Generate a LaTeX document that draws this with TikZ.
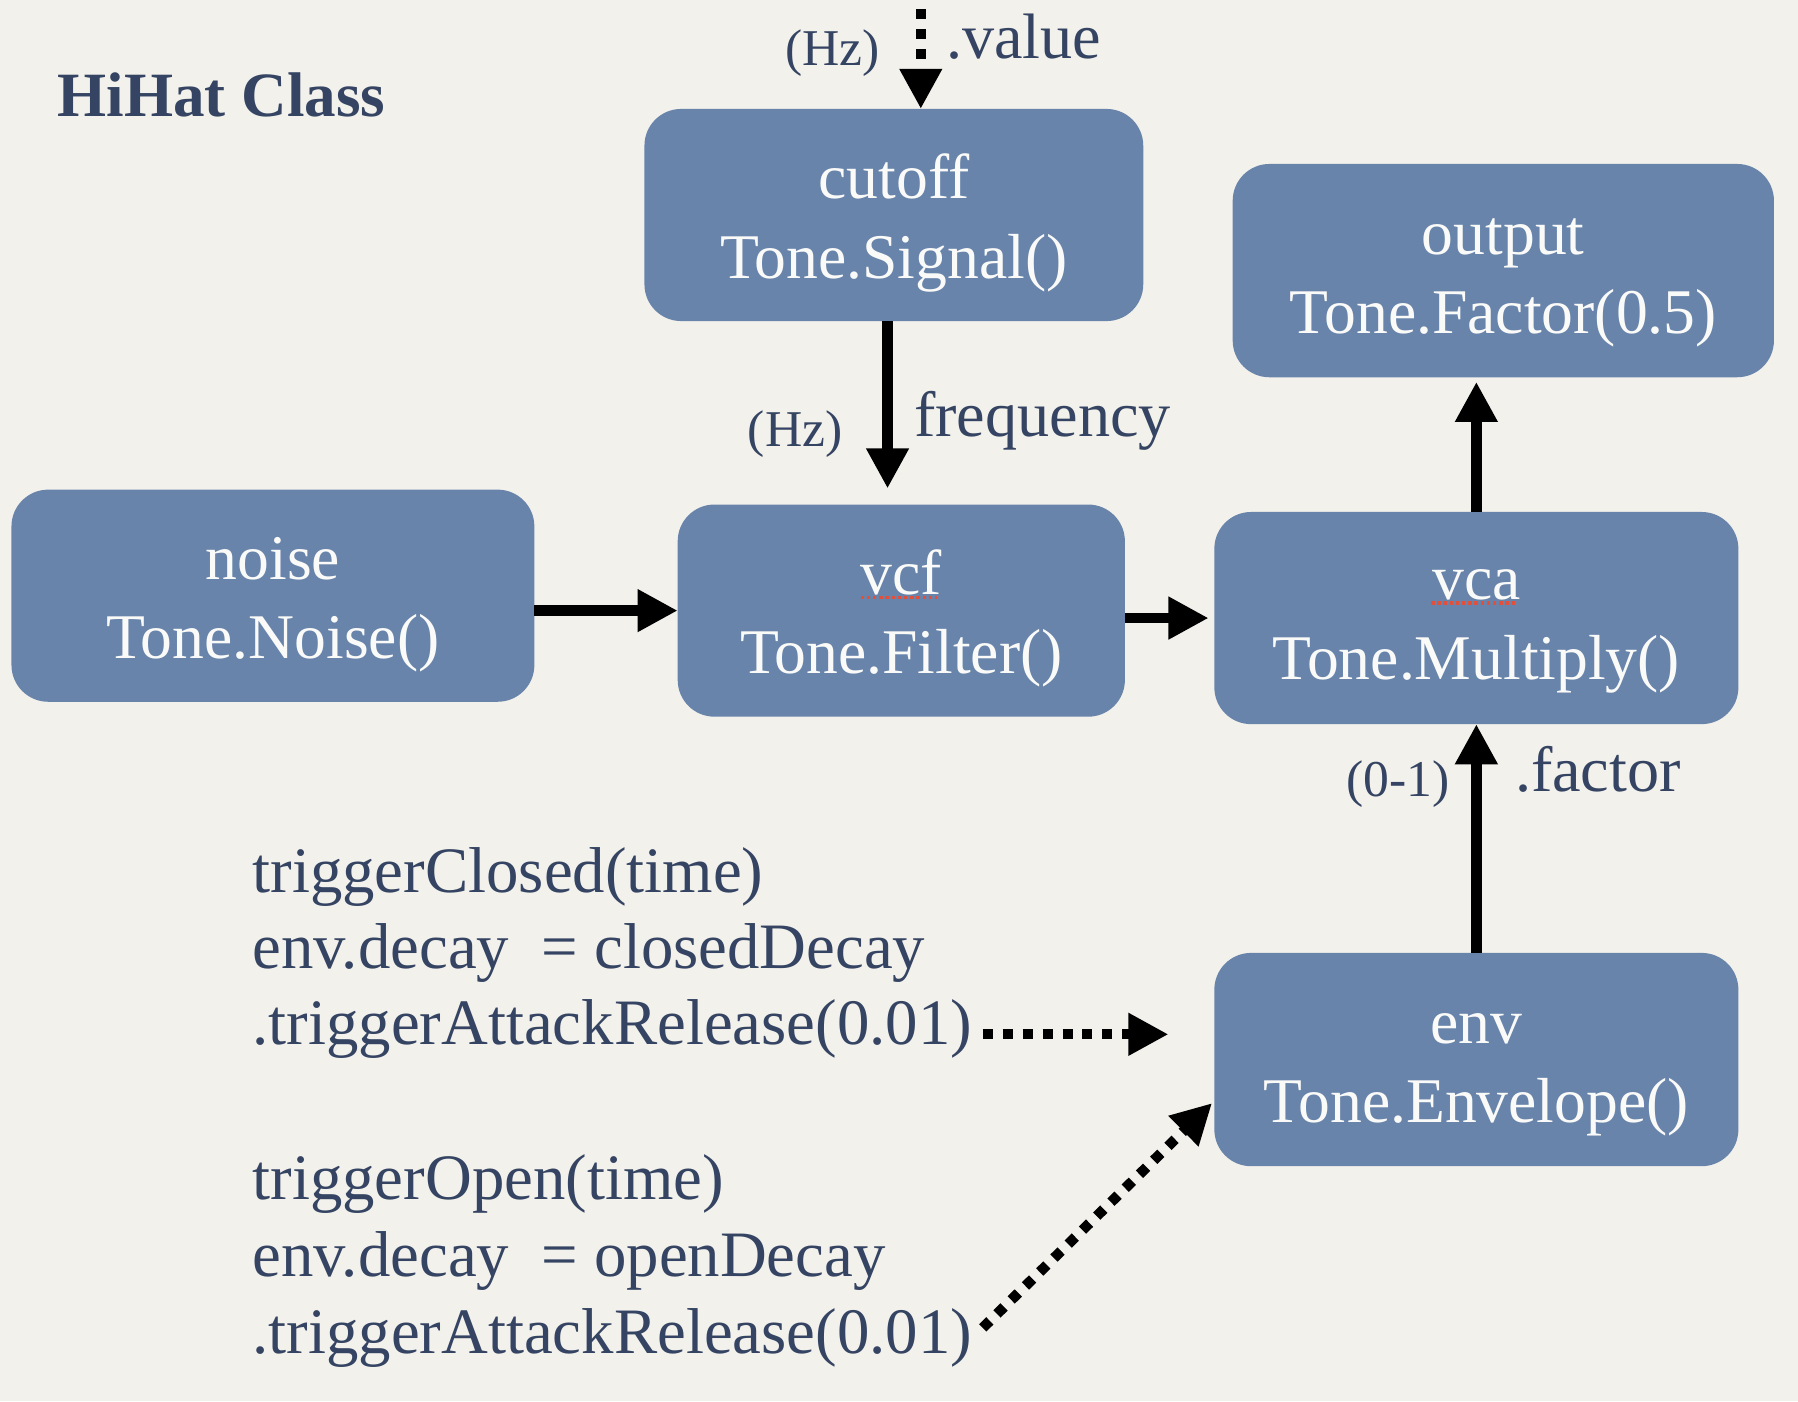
\documentclass[tikz,border=0pt]{standalone}
\usepackage{fontspec}
\setmainfont{Liberation Serif}
\usetikzlibrary{arrows.meta,calc}
\definecolor{paper}{RGB}{243,241,236}
\definecolor{boxblue}{RGB}{104,132,171}
\definecolor{ink}{RGB}{52,68,98}
\definecolor{boxtext}{RGB}{250,250,248}
\definecolor{spellred}{RGB}{226,80,60}
\newcommand{\myboxfont}{\fontsize{55.5}{62}\selectfont}
\newcommand{\mylabfont}{\fontsize{56}{62}\selectfont}
\newcommand{\myunitfont}{\fontsize{45}{52}\selectfont}
\newcommand{\mycodefont}{\fontsize{56.5}{62}\selectfont}
\newcommand{\mytitlefont}{\fontsize{55}{62}\selectfont\bfseries}
\begin{document}
\begin{tikzpicture}[x=1pt,y=-1pt,
  blockbox/.style={fill=boxblue, draw=none, rounded corners=32pt, inner sep=0pt, outer sep=0pt},
  boxlabel/.style={anchor=base, text=boxtext, inner sep=0pt, font=\myboxfont},
  edgelabel/.style={anchor=base west, text=ink, inner sep=0pt, font=\mylabfont},
  unitlabel/.style={anchor=base, text=ink, inner sep=0pt, font=\myunitfont},
  codeline/.style={anchor=base west, text=ink, inner sep=0pt, font=\mycodefont},
  flow/.style={line width=9pt, -{Triangle[length=35pt,width=35pt]}},
  dotflow/.style={flow, dash pattern=on 8.7pt off 8.7pt},
  spell/.style={spellred, line width=3pt, dash pattern=on 3pt off 2.4pt}
]
% background / bounding box
\fill[paper] (0,0) rectangle (1568,1222);
\useasboundingbox (0,0) rectangle (1568,1222);

% title
\node[anchor=base west, text=ink, inner sep=0pt, font=\mytitlefont] (title) at (50,102) {HiHat Class};

% boxes
\node[blockbox, minimum width=435pt, minimum height=185pt] (cutoff) at (779.5,187.5) {};
\node[blockbox, minimum width=472pt, minimum height=186pt] (output) at (1311,236) {};
\node[blockbox, minimum width=456pt, minimum height=185pt] (noise) at (238,519.5) {};
\node[blockbox, minimum width=390pt, minimum height=185pt] (vcf) at (786,532.5) {};
\node[blockbox, minimum width=457pt, minimum height=185pt] (vca) at (1287.5,539) {};
\node[blockbox, minimum width=457pt, minimum height=186pt] (env) at (1287.5,924) {};

% box texts
\node[boxlabel] (cutoffA) at ($(cutoff.center)+(0,-14)$) {cutoff};
\node[boxlabel] (cutoffB) at ($(cutoff.center)+(0,55)$) {Tone.Signal()};
\node[boxlabel] (outputA) at ($(output.center)+(0,-14)$) {output};
\node[boxlabel] (outputB) at ($(output.center)+(0,55)$) {Tone.Factor(0.5)};
\node[boxlabel] (noiseA) at ($(noise.center)+(0,-14)$) {noise};
\node[boxlabel] (noiseB) at ($(noise.center)+(0,55)$) {Tone.Noise()};
\node[boxlabel] (vcfA) at ($(vcf.center)+(0,-14)$) {vcf};
\node[boxlabel] (vcfB) at ($(vcf.center)+(0,55)$) {Tone.Filter()};
\node[boxlabel] (vcaA) at ($(vca.center)+(0,-16)$) {vca};
\node[boxlabel] (vcaB) at ($(vca.center)+(0,54)$) {Tone.Multiply()};
\node[boxlabel] (envA) at ($(env.center)+(0,-14)$) {env};
\node[boxlabel] (envB) at ($(env.center)+(0,55)$) {Tone.Envelope()};

% spell-check underlines
\draw[spell] (750.5,521) -- (817,521);
\draw[spell] (1248,526) -- (1322.5,526);

% edge labels
\node[unitlabel] (hzTop) at (726,57) {(Hz)};
\node[edgelabel] (valueLbl) at (825,51) {.value};
\node[unitlabel] (hzMid) at (693.5,389) {(Hz)};
\node[edgelabel] (freqLbl) at (797,381) {frequency};
\node[unitlabel] (rangeLbl) at (1219,695) {(0-1)};
\node[edgelabel] (factorLbl) at (1321,690.5) {.factor};

% code text
\node[codeline] (codeA1) at (220,778) {triggerClosed(time)};
\node[codeline] (codeA2) at (220,845) {env.decay\hspace{0.5em}= closedDecay};
\node[codeline] (codeA3) at (220,911) {.triggerAttackRelease(0.01)};
\node[codeline] (codeB1) at (220,1046) {triggerOpen(time)};
\node[codeline] (codeB2) at (220,1113) {env.decay\hspace{0.5em}= openDecay};
\node[codeline] (codeB3) at (220,1180) {.triggerAttackRelease(0.01)};

% helper coordinates
\coordinate (valueStart) at (803,8);
\coordinate (freqX) at (774,0);
\coordinate (closedStart) at (857,902);
\coordinate (closedEnd) at (1019,902);
\coordinate (openStart) at (857,1158);
\coordinate (openEnd) at (1057,962);
\coordinate (vcaY) at (0,539);

% connectors
\draw[dotflow] (valueStart) -- (cutoff.north -| valueStart);
\draw[flow, shorten >=14pt] (cutoff.south -| freqX) -- (vcf.north -| freqX);
\draw[flow] (noise.east |- vcf.west) -- (vcf.west);
\draw[flow, shorten >=5pt] (vcf.east |- vcaY) -- (vca.west |- vcaY);
\draw[flow, shorten >=4pt] (vca.north) -- (output.south -| vca.north);
\draw[flow] (env.north) -- (vca.south);
\draw[dotflow] (closedStart) -- (closedEnd);
\draw[dotflow] (openStart) -- (openEnd);
\end{tikzpicture}
\end{document}
